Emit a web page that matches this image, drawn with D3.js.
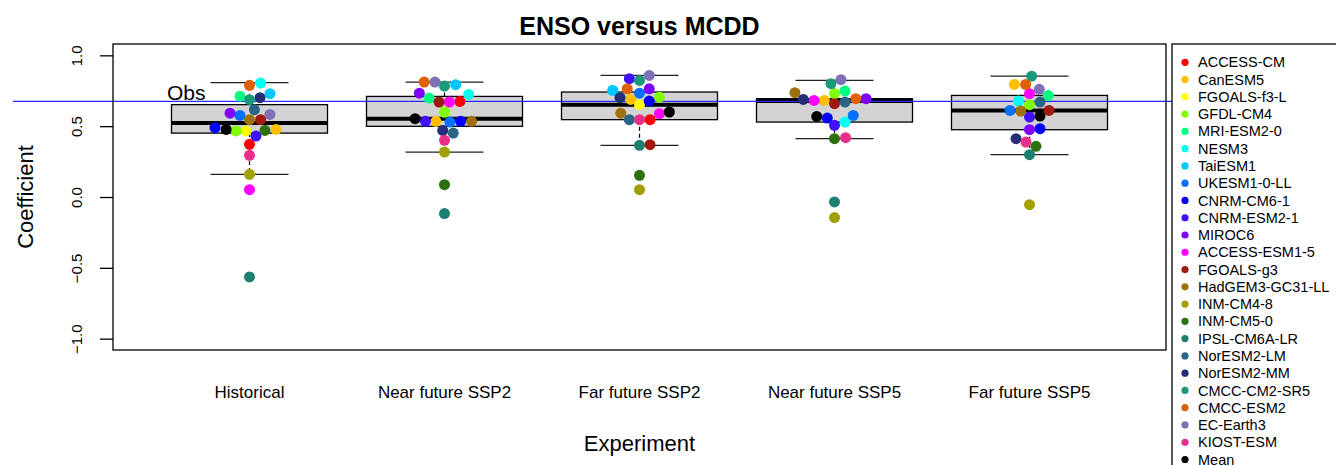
<!DOCTYPE html>
<html>
<head>
<meta charset="utf-8">
<script src="https://cdn.jsdelivr.net/npm/d3@7"></script>
<style>
  body { margin: 0; background: #fff; }
  text { font-family: "Liberation Sans", Arial, sans-serif; }
</style>
</head>
<body>
<div id="chart"></div>
<script>
var experiments = ["Historical", "Near future SSP2", "Far future SSP2", "Near future SSP5", "Far future SSP5"];

var models = ["ACCESS-CM", "CanESM5", "FGOALS-f3-L", "GFDL-CM4", "MRI-ESM2-0", "NESM3", "TaiESM1",
  "UKESM1-0-LL", "CNRM-CM6-1", "CNRM-ESM2-1", "MIROC6", "ACCESS-ESM1-5", "FGOALS-g3",
  "HadGEM3-GC31-LL", "INM-CM4-8", "INM-CM5-0", "IPSL-CM6A-LR", "NorESM2-LM", "NorESM2-MM",
  "CMCC-CM2-SR5", "CMCC-ESM2", "EC-Earth3", "KIOST-ESM", "Mean"];

var modelColors = ["#FF0000", "#FFBF00", "#FFFF00", "#80FF00", "#00FF80", "#00FFF0", "#00C8FF",
  "#0070FF", "#0000FF", "#4010FF", "#8000FF", "#FF00FF", "#A01A10",
  "#A0700A", "#A0A000", "#2D7010", "#1E8070", "#2A6585", "#252E78",
  "#1A9A7A", "#E06000", "#7F70B8", "#E8308A", "#000000"];

// coefficients per experiment, in model order (null = no run)
var historical = [0.372, 0.477, 0.466, 0.466, 0.712, 0.804, 0.729, 0.576, 0.489, 0.430, 0.592, 0.052,
  0.546, 0.546, 0.160, 0.470, -0.564, 0.616, 0.701, 0.687, 0.788, 0.583, 0.294, 0.477];
var nearSSP2 = [0.675, 0.534, 0.600, 0.600, 0.698, 0.724, 0.793, 0.529, 0.534, 0.534, 0.733, 0.670,
  0.670, 0.534, 0.317, 0.087, -0.117, 0.451, 0.470, 0.783, 0.811, 0.811, 0.400, 0.553];
var farSSP2 = [0.546, 0.689, 0.652, 0.705, 0.701, 0.752, 0.752, 0.733, 0.677, 0.835, 0.764, 0.588,
  0.369, 0.592, 0.052, 0.153, 0.365, 0.546, 0.701, 0.823, 0.764, 0.858, 0.546, 0.600];
var nearSSP5 = [null, 0.682, null, 0.729, 0.748, 0.529, null, 0.576, 0.557, 0.506, 0.694, 0.682,
  0.659, 0.736, -0.145, 0.412, -0.035, 0.670, 0.689, 0.800, 0.694, 0.828, 0.419, 0.569];
var farSSP5 = [null, 0.795, null, 0.652, 0.717, 0.677, null, 0.611, 0.482, 0.564, 0.475, 0.729,
  0.611, 0.607, -0.054, 0.358, 0.299, 0.670, 0.412, 0.853, 0.795, 0.760, 0.388, 0.571];

// horizontal jitter of the dots (in category units)
var jitHistorical = [0, 0.136, -0.018, -0.069, -0.049, 0.057, 0.105, -0.049, -0.177, 0.033, -0.1, 0,
  0.057, 0, 0, 0.079, 0, 0.025, 0.054, 0, 0, 0.105, 0, -0.12];
var jitNearSSP2 = [0.079, -0.044, 0, 0, -0.079, 0.124, 0.057, 0.028, 0.083, -0.098, -0.129, 0.025,
  -0.028, 0.139, 0, 0, 0, 0.045, -0.009, 0, -0.104, -0.049, 0, -0.151];
var jitFarSSP2 = [0.054, -0.045, 0, 0.102, -0.1, -0.137, -0.137, 0, 0.05, -0.052, 0.05, 0.102,
  0.054, -0.096, 0, 0, 0, -0.052, -0.1, 0, -0.063, 0.05, 0, 0.153];
var jitNearSSP5 = [0, -0.052, 0, 0, 0.054, 0.054, 0, 0.096, -0.037, 0, 0.162, -0.105,
  0, -0.203, 0, 0, 0, 0.054, -0.16, -0.018, 0.109, 0.033, 0.057, -0.091];
var jitFarSSP5 = [0, -0.078, 0, 0, 0.096, -0.057, 0, -0.1, 0.054, 0, 0, 0,
  0.1, -0.045, 0, 0.033, 0, 0.054, -0.069, 0.011, -0.02, 0.05, -0.018, 0.054];

// box statistics per experiment
var whiskLow = [0.160, 0.317, 0.365, 0.412, 0.299];
var quart1 = [0.451, 0.499, 0.546, 0.529, 0.475];
var medians = [0.522, 0.553, 0.652, 0.677, 0.611];
var quart3 = [0.652, 0.710, 0.741, 0.694, 0.717];
var whiskHigh = [0.807, 0.811, 0.858, 0.823, 0.853];

var obsValue = 0.675;
var yTicks = [-1, -0.5, 0, 0.5, 1];

var allValues = [historical, nearSSP2, farSSP2, nearSSP5, farSSP5];
var allJitter = [jitHistorical, jitNearSSP2, jitFarSSP2, jitNearSSP5, jitFarSSP5];

var svgWidth = 1336, svgHeight = 465,
    plotLeft = 113, plotRight = 1166, plotTop = 44, plotBottom = 350;

var svg = d3.select("#chart").append("svg")
    .attr("width", svgWidth)
    .attr("height", svgHeight);

var x = d3.scaleLinear().domain([0.3, 5.7]).range([plotLeft, plotRight]);
var y = d3.scaleLinear().domain([-1.08, 1.08]).range([plotBottom, plotTop]);

// title
svg.append("text")
   .attr("x", (plotLeft + plotRight) / 2)
   .attr("y", 35)
   .attr("text-anchor", "middle")
   .attr("font-size", 25)
   .attr("font-weight", "bold")
   .text("ENSO versus MCDD");

// boxes
var boxes = svg.append("g");
experiments.forEach(function(name, i){
  var cx = x(i + 1), bw = x(1.4) - x(1), cap = x(1.2) - x(1);
  boxes.append("line")
       .attr("x1", cx).attr("x2", cx)
       .attr("y1", y(quart3[i])).attr("y2", y(whiskHigh[i]))
       .attr("stroke", "#000").attr("stroke-dasharray", "4,3").attr("stroke-width", 1.2);
  boxes.append("line")
       .attr("x1", cx).attr("x2", cx)
       .attr("y1", y(quart1[i])).attr("y2", y(whiskLow[i]))
       .attr("stroke", "#000").attr("stroke-dasharray", "4,3").attr("stroke-width", 1.2);
  [whiskLow[i], whiskHigh[i]].forEach(function(v){
    boxes.append("line")
         .attr("x1", cx - cap).attr("x2", cx + cap)
         .attr("y1", y(v)).attr("y2", y(v))
         .attr("stroke", "#222").attr("stroke-width", 1.3);
  });
  boxes.append("rect")
       .attr("x", cx - bw).attr("y", y(quart3[i]))
       .attr("width", bw * 2).attr("height", y(quart1[i]) - y(quart3[i]))
       .attr("fill", "#D3D3D3").attr("stroke", "#000").attr("stroke-width", 1.3);
  boxes.append("line")
       .attr("x1", cx - bw).attr("x2", cx + bw)
       .attr("y1", y(medians[i])).attr("y2", y(medians[i]))
       .attr("stroke", "#000").attr("stroke-width", 4);
});

// obs line
svg.append("line")
   .attr("x1", 13).attr("x2", svgWidth)
   .attr("y1", y(obsValue)).attr("y2", y(obsValue))
   .attr("stroke", "#2828FF").attr("stroke-width", 1.2);
svg.append("text")
   .attr("x", 167)
   .attr("y", y(obsValue) - 1)
   .attr("font-size", 21)
   .text("Obs");

// dots
var dots = svg.append("g");
allValues.forEach(function(vals, i){
  vals.forEach(function(v, m){
    if (v === null) return;
    dots.append("circle")
        .attr("cx", x(i + 1 + allJitter[i][m]))
        .attr("cy", y(v))
        .attr("r", 5.5)
        .attr("fill", modelColors[m]);
  });
});

// plot frame
svg.append("rect")
   .attr("x", plotLeft).attr("y", plotTop)
   .attr("width", plotRight - plotLeft).attr("height", plotBottom - plotTop)
   .attr("fill", "none").attr("stroke", "#000").attr("stroke-width", 1.3);

// y axis
var yAxis = svg.append("g")
   .attr("transform", "translate(" + plotLeft + ",0)")
   .call(d3.axisLeft(y).tickValues(yTicks).tickSize(13).tickSizeOuter(0)
           .tickFormat(function(d){ return d3.format(".1f")(d).replace("-", "\u2212"); }));
yAxis.select(".domain").remove();
yAxis.selectAll("line").attr("stroke", "#000").attr("stroke-width", 1.3);
yAxis.selectAll("text")
     .attr("transform", "rotate(-90)")
     .attr("x", 0).attr("y", -31).attr("dy", 0)
     .attr("text-anchor", "middle")
     .attr("font-size", 15)
     .attr("font-family", "Liberation Sans, Arial, sans-serif")
     .attr("fill", "#000");

// x labels
svg.append("g").selectAll("text")
   .data(experiments)
   .enter().append("text")
   .attr("x", function(d, i){ return x(i + 1); })
   .attr("y", 398)
   .attr("text-anchor", "middle")
   .attr("font-size", 17)
   .text(function(d){ return d; });

svg.append("text")
   .attr("x", (plotLeft + plotRight) / 2)
   .attr("y", 451)
   .attr("text-anchor", "middle")
   .attr("font-size", 22)
   .text("Experiment");

svg.append("text")
   .attr("transform", "translate(33," + y(0) + ") rotate(-90)")
   .attr("text-anchor", "middle")
   .attr("font-size", 22)
   .text("Coefficient");

// legend
var legend = svg.append("g");
legend.append("rect")
      .attr("x", 1172).attr("y", 44)
      .attr("width", 200).attr("height", 440)
      .attr("fill", "#fff").attr("stroke", "#000").attr("stroke-width", 1.3);
models.forEach(function(name, m){
  var ly = 62.3 + m * 17.27;
  legend.append("circle")
        .attr("cx", 1185).attr("cy", ly).attr("r", 3.6)
        .attr("fill", modelColors[m]);
  legend.append("text")
        .attr("x", 1198).attr("y", ly)
        .attr("dy", "0.35em")
        .attr("font-size", 14.5)
        .text(name);
});
</script>
</body>
</html>
